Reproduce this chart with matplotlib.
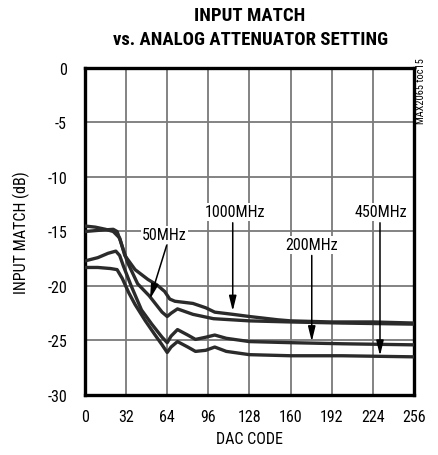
import matplotlib
matplotlib.use("Agg")
import matplotlib.pyplot as plt

plt.rcParams['font.family'] = ['Roboto Condensed', 'Liberation Sans Narrow', 'Roboto', 'DejaVu Sans']
plt.rcParams['axes.unicode_minus'] = False

# DAC code vs input match (dB)
dac_1000 = [0, 8, 16, 22, 27, 31, 39, 49, 56, 62, 66, 70, 84, 94, 101, 115, 128, 150, 160, 192, 224, 256]
db_1000 = [-14.5, -14.6, -14.8, -15.0, -15.6, -17.2, -18.5, -19.4, -19.9, -20.5, -21.2, -21.4,
           -21.6, -22.0, -22.4, -22.6, -22.8, -23.1, -23.2, -23.3, -23.3, -23.4]

dac_50 = [0, 10, 22, 25, 28, 33, 41, 50, 56, 60, 64, 67, 72, 84, 100, 128, 160, 200, 256]
db_50 = [-15.0, -14.9, -14.8, -15.0, -16.0, -17.8, -19.8, -20.9, -21.8, -22.4, -22.8, -22.5,
         -22.1, -22.6, -23.0, -23.2, -23.3, -23.4, -23.5]

dac_200 = [0, 10, 18, 24, 27, 30, 36, 44, 52, 60, 64, 67, 72, 80, 86, 94, 101, 110, 128, 160, 200, 256]
db_200 = [-17.7, -17.4, -17.0, -16.8, -17.2, -18.2, -20.0, -22.2, -23.5, -24.7, -25.2, -24.6,
          -24.0, -24.5, -24.9, -24.7, -24.5, -24.8, -25.1, -25.2, -25.3, -25.4]

dac_450 = [0, 10, 20, 25, 29, 34, 39, 47, 54, 60, 64, 67, 72, 80, 86, 94, 101, 110, 128, 160, 200, 256]
db_450 = [-18.3, -18.3, -18.4, -18.5, -19.3, -20.6, -21.7, -23.2, -24.4, -25.4, -26.1, -25.6,
          -25.1, -25.6, -26.0, -25.9, -25.6, -26.0, -26.3, -26.4, -26.4, -26.5]

x_ticks = [0, 32, 64, 96, 128, 160, 192, 224, 256]
y_ticks = [0, -5, -10, -15, -20, -25, -30]

fig = plt.figure(figsize=(4.38, 4.56), dpi=100)
ax = fig.add_axes([0.194, 0.1316, 0.751, 0.7171])

for xs, ys in [(dac_1000, db_1000), (dac_50, db_50), (dac_200, db_200), (dac_450, db_450)]:
    ax.plot(xs, ys, color='#2b2b2b', lw=2.4, solid_joinstyle='round', zorder=3)

ax.set_xlim(0, 256)
ax.set_ylim(-30, 0)
ax.set_xticks(x_ticks)
ax.set_yticks(y_ticks)
ax.tick_params(length=0, labelsize=11.5)
ax.tick_params(axis='x', pad=10)
ax.tick_params(axis='y', pad=13)
ax.grid(True, color='#7a7a7a', lw=1.3)
for sp in ax.spines.values():
    sp.set_linewidth(2.4)

ax.set_xlabel('DAC CODE', fontsize=11.5, labelpad=5)
ax.set_ylabel('INPUT MATCH (dB)', fontsize=11.5, labelpad=12)

fig.text(0.571, 0.965, 'INPUT MATCH', ha='center', va='center',
         fontsize=13.5, fontweight='bold')
fig.text(0.571, 0.912, 'vs. ANALOG ATTENUATOR SETTING', ha='center', va='center',
         fontsize=13.5, fontweight='bold')
fig.text(0.962, 0.80, 'MAX2065 toc15', rotation=90, ha='center', va='center', fontsize=7.5)

arrow = dict(arrowstyle='-|>,head_length=0.9,head_width=0.22', color='black', lw=1.1,
             shrinkA=0, shrinkB=0)
box = dict(facecolor='white', edgecolor='none', pad=1)

labels = [('50MHz', (62, -15.3), (63.5, -16.3), (50.6, -21.2)),
          ('1000MHz', (116.5, -13.2), (115, -14.2), (115, -22.3)),
          ('200MHz', (176.5, -16.2), (176.5, -17.2), (176.5, -25.1)),
          ('450MHz', (230, -13.2), (229.6, -14.2), (229.6, -26.4))]
for txt, tpos, start, tip in labels:
    ax.text(tpos[0], tpos[1], txt, ha='center', va='center', fontsize=11.5, bbox=box, zorder=5)
    ax.annotate('', xy=tip, xytext=start, arrowprops=arrow, zorder=4)

fig.savefig('out.png', dpi=100)
